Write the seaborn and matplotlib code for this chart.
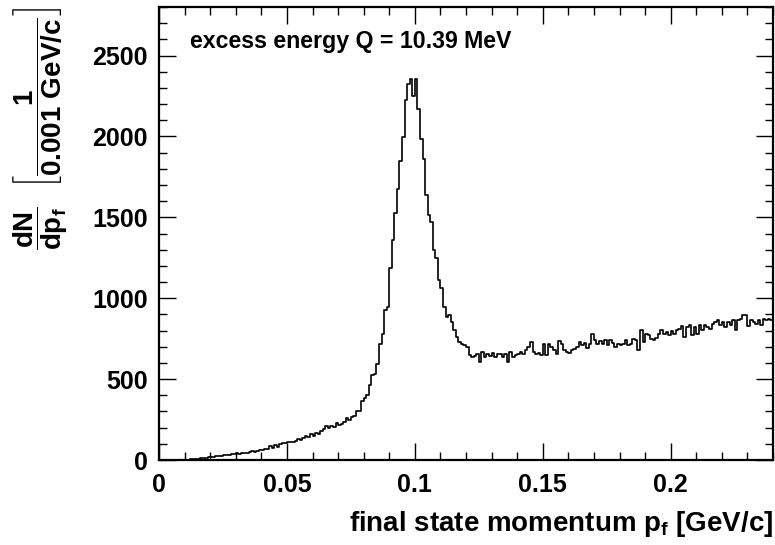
import numpy as np
import pandas as pd
import seaborn as sns
import matplotlib.pyplot as plt
from matplotlib.ticker import MultipleLocator, FuncFormatter

# histogram of final state momentum, bin width 0.001 GeV/c, 0 .. 0.24
bin_edges = [round(0.001 * i, 4) for i in range(241)]

counts = [
    # 0.000 - 0.039
    0, 0, 0, 0, 0, 0, 0, 0, 1, 2, 3, 2, 5, 4, 6, 9, 12, 10, 15, 17,
    20, 18, 22, 24, 23, 28, 30, 29, 34, 37, 41, 39, 44, 46, 45, 50, 55, 52, 58, 62,
    # 0.040 - 0.079
    60, 66, 70, 88, 75, 92, 80, 98, 104, 106, 109, 112, 110, 118, 130, 125, 136, 148, 140, 158,
    150, 165, 160, 182, 190, 208, 200, 212, 205, 230, 214, 225, 232, 260, 245, 268, 274, 300, 304, 366,
    # 0.080 - 0.119 (peak)
    381, 401, 463, 524, 530, 592, 716, 777, 930, 945, 1185, 1357, 1524, 1678, 1851, 1995, 2225, 2324, 2355, 2252,
    2355, 2172, 1987, 1863, 1635, 1512, 1470, 1296, 1246, 1110, 1061, 946, 884, 894, 853, 802, 760, 730, 720, 709,
    # 0.120 - 0.159
    699, 648, 637, 641, 658, 606, 668, 637, 658, 641, 662, 637, 658, 654, 637, 658, 606, 668, 637, 648,
    658, 668, 658, 678, 699, 730, 668, 658, 662, 648, 720, 648, 716, 699, 678, 658, 736, 720, 678, 668,
    # 0.160 - 0.199
    662, 678, 689, 699, 730, 709, 724, 695, 716, 781, 744, 720, 736, 720, 744, 709, 740, 724, 699, 720,
    709, 720, 740, 709, 716, 750, 744, 678, 802, 730, 781, 771, 750, 744, 757, 781, 802, 781, 792, 771,
    # 0.200 - 0.239
    798, 781, 802, 812, 827, 761, 822, 833, 771, 822, 777, 833, 806, 833, 822, 812, 839, 853, 864, 833,
    853, 822, 853, 833, 864, 806, 864, 874, 894, 894, 827, 864, 853, 843, 864, 833, 874, 864, 874, 864,
]

x_ticks = [0, 0.05, 0.1, 0.15, 0.2]
y_ticks = [0, 500, 1000, 1500, 2000, 2500]
annotation = "excess energy Q = 10.39 MeV"

df = pd.DataFrame({"p": np.array(bin_edges[:-1]) + 0.0005, "n": counts})

sns.set_style("ticks")
plt.rcParams["font.family"] = ["Liberation Sans", "DejaVu Sans"]
plt.rcParams["font.weight"] = "bold"
plt.rcParams["text.color"] = "black"
plt.rcParams["axes.labelcolor"] = "black"
plt.rcParams["mathtext.fontset"] = "custom"
plt.rcParams["mathtext.rm"] = "Liberation Sans:bold"
plt.rcParams["mathtext.it"] = "Liberation Sans:bold"
plt.rcParams["mathtext.bf"] = "Liberation Sans:bold"

fig = plt.figure(figsize=(7.75, 5.45), dpi=100)
ax = fig.add_axes([159 / 775, 85 / 545, 614 / 775, 453 / 545])

sns.histplot(data=df, x="p", weights="n", bins=bin_edges, element="step",
             fill=False, color="black", linewidth=1.2, ax=ax)

ax.set_xlim(0, 0.24)
ax.set_ylim(0, 2800)
ax.set_xticks(x_ticks)
ax.set_yticks(y_ticks)
ax.xaxis.set_major_formatter(FuncFormatter(lambda v, p: "%g" % v))
ax.xaxis.set_minor_locator(MultipleLocator(0.01))
ax.yaxis.set_minor_locator(MultipleLocator(100))
ax.tick_params(which="both", direction="in", top=True, right=True, width=1, colors="black")
ax.tick_params(which="major", length=12, labelsize=18)
ax.tick_params(axis="x", which="major", pad=9)
ax.tick_params(axis="y", which="major", pad=8)
ax.tick_params(which="minor", length=6)
for s in ax.spines.values():
    s.set_linewidth(1.6)
    s.set_color("black")

ax.set_xlabel(r"final state momentum p$_\mathrm{f}$ [GeV/c]", fontsize=20,
              fontweight="bold", color="black", loc="right", labelpad=9)
ax.set_ylabel(r"$\dfrac{\mathrm{dN}}{\mathrm{dp_f}}\ \ \left[\dfrac{1}{\mathrm{0.001\ GeV/c}}\right]$",
              fontsize=20, color="black", loc="top", labelpad=16)

ax.text(0.05, 0.923, annotation, transform=ax.transAxes, fontsize=16.7,
        fontweight="bold", color="black", va="center", ha="left")

fig.savefig("out.png", dpi=100)
